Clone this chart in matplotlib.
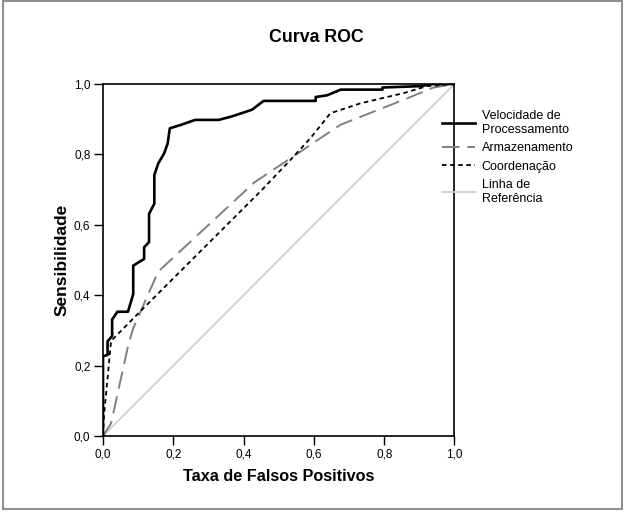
import matplotlib.pyplot as plt
from matplotlib.patches import Rectangle
from matplotlib.ticker import FuncFormatter

plt.rcParams['font.family'] = ['Liberation Sans', 'DejaVu Sans']

# ROC curves (1 - specificity, sensitivity)
vel_x = [0.0, 0.0, 0.013, 0.013, 0.026, 0.026, 0.041, 0.071, 0.086, 0.086,
         0.117, 0.117, 0.131, 0.131, 0.146, 0.146, 0.157, 0.174, 0.184, 0.19,
         0.19, 0.222, 0.262, 0.329, 0.367, 0.424, 0.457, 0.605, 0.605, 0.638,
         0.676, 0.795, 0.795, 0.903, 0.94, 1.0]
vel_y = [0.0, 0.227, 0.23, 0.269, 0.284, 0.331, 0.353, 0.353, 0.403, 0.484,
         0.503, 0.536, 0.551, 0.631, 0.66, 0.741, 0.774, 0.803, 0.831, 0.874,
         0.874, 0.884, 0.898, 0.898, 0.908, 0.927, 0.952, 0.952, 0.963, 0.968,
         0.984, 0.984, 0.99, 0.994, 1.0, 1.0]

arm_x = [0.0, 0.023, 0.072, 0.086, 0.157, 0.43, 0.55, 0.675, 0.855, 0.94, 1.0]
arm_y = [0.0, 0.036, 0.259, 0.306, 0.467, 0.72, 0.80, 0.884, 0.955, 0.99, 1.0]

coo_x = [0.0, 0.003, 0.023, 0.11, 0.447, 0.533, 0.59, 0.647, 0.732, 0.855, 0.922, 1.0]
coo_y = [0.0, 0.06, 0.27, 0.358, 0.694, 0.784, 0.846, 0.917, 0.945, 0.974, 0.994, 1.0]

ref_x = [0.0, 1.0]
ref_y = [0.0, 1.0]

ticks = [0.0, 0.2, 0.4, 0.6, 0.8, 1.0]

fig = plt.figure(figsize=(6.27, 5.15), dpi=100)
ax = fig.add_axes([103 / 627, 1 - 436 / 515, 351.5 / 627, 352 / 515])

ax.plot(ref_x, ref_y, color='#cccccc', lw=1.2, label='Linha de\nReferência', zorder=1)
ax.plot(arm_x, arm_y, color='#808080', lw=1.4, dashes=(9, 4), label='Armazenamento', zorder=2)
ax.plot(coo_x, coo_y, color='black', lw=1.3, dashes=(2.5, 2), label='Coordenação', zorder=3)
ax.plot(vel_x, vel_y, color='black', lw=1.9, label='Velocidade de\nProcessamento', zorder=4)

ax.set_xlim(0, 1)
ax.set_ylim(0, 1)
ax.set_xticks(ticks)
ax.set_yticks(ticks)
fmt = FuncFormatter(lambda v, p: f"{v:.1f}".replace('.', ','))
ax.xaxis.set_major_formatter(fmt)
ax.yaxis.set_major_formatter(fmt)
ax.tick_params(direction='out', length=6.5, width=1, labelsize=8.5, pad=2.5, colors='black')
for s in ax.spines.values():
    s.set_linewidth(1.2)

ax.set_xlabel('Taxa de Falsos Positivos', fontsize=11.7, fontweight='bold', labelpad=6)
ax.set_ylabel('Sensibilidade', fontsize=12.5, fontweight='bold', labelpad=3)
fig.text(316 / 627, 1 - 37 / 515, 'Curva ROC', fontsize=12.8, fontweight='bold',
         ha='center', va='center')

handles, labels = ax.get_legend_handles_labels()
order = [3, 1, 2, 0]
leg = ax.legend([handles[i] for i in order], [labels[i] for i in order],
                loc='upper left', bbox_to_anchor=(0.964, 0.925), frameon=False,
                fontsize=9, handlelength=2.65, handletextpad=0.55, labelspacing=0.5,
                borderaxespad=0, borderpad=0)
leg.set_clip_on(False)

fig.patches.append(Rectangle((3 / 627, 6 / 515), 619 / 627, 508 / 515,
                             transform=fig.transFigure, fill=False,
                             edgecolor='#909090', lw=1.5))

fig.savefig('out.png', dpi=100)
